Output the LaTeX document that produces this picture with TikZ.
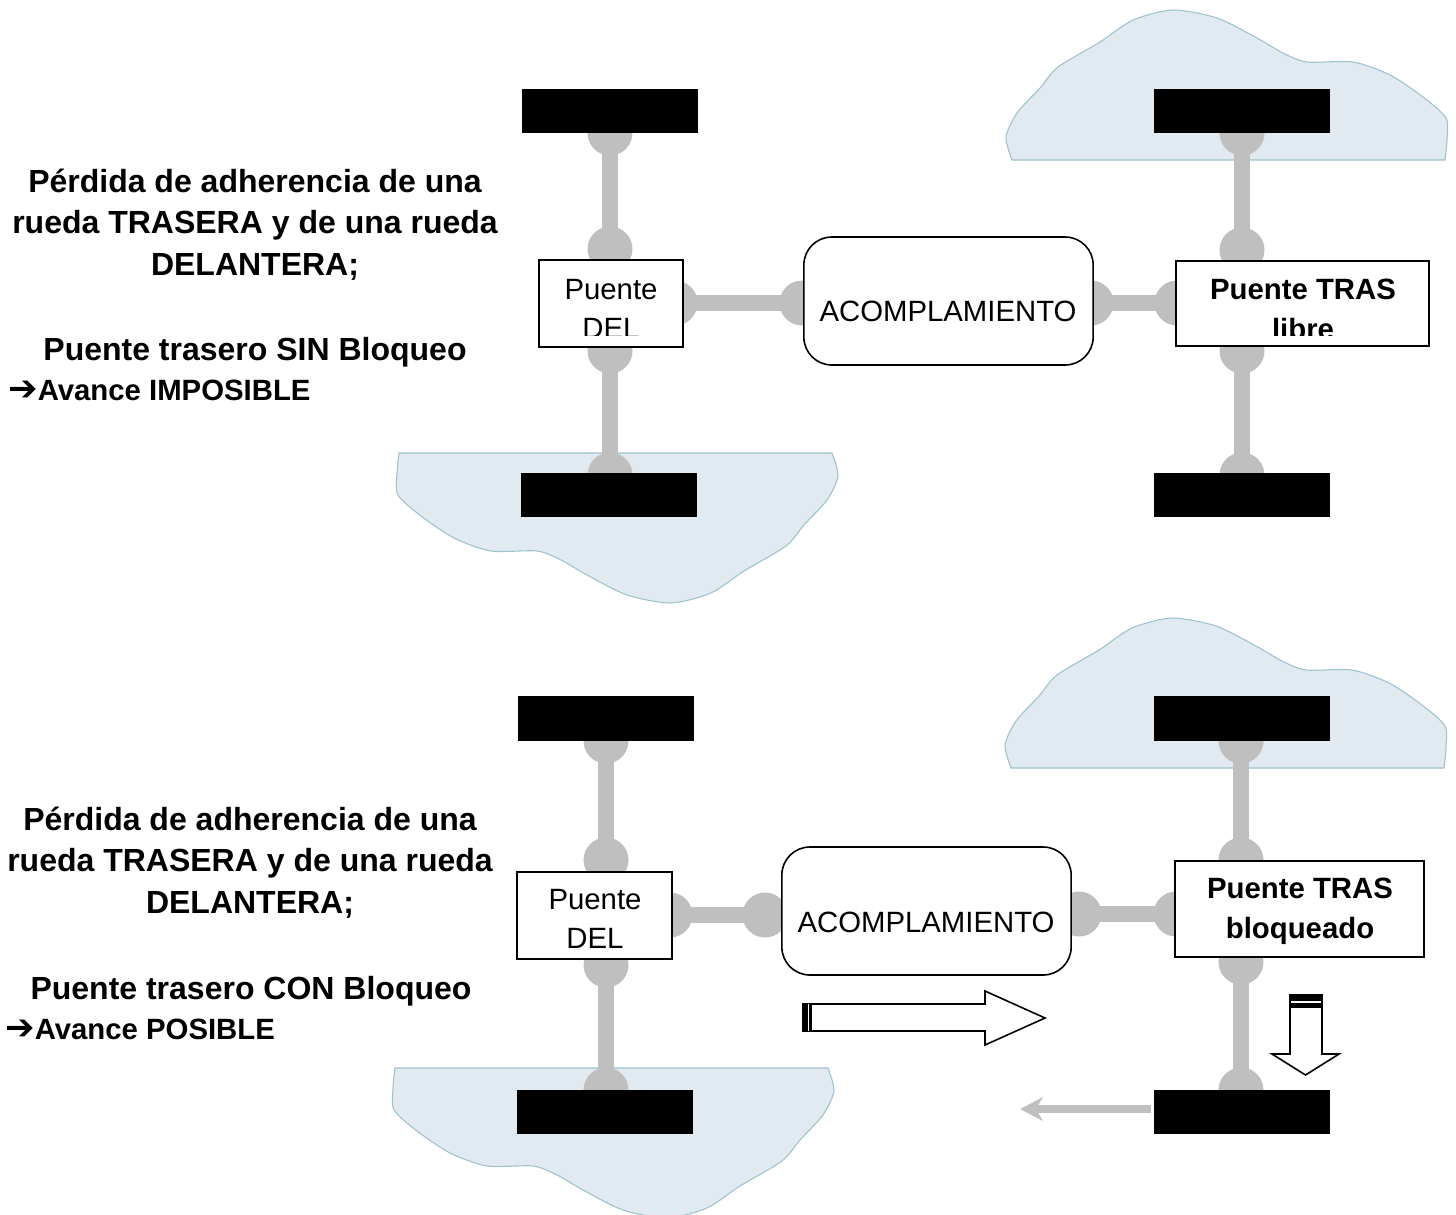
\documentclass[tikz,border=0pt]{standalone}
\usepackage{fontspec}
\setmainfont{Liberation Sans}
\newfontfamily\arrowfont[Scale=1.2]{DejaVu Sans}
\usetikzlibrary{arrows.meta}
\definecolor{axlegray}{HTML}{BFBFBF}
\definecolor{mudfill}{HTML}{E0EAF0}
\definecolor{mudline}{HTML}{9FC2CC}

\tikzset{
	hub/.style={circle, fill=axlegray, inner sep=0pt, minimum size=33.75pt},
	axle/.style={draw=axlegray, line width=12pt, shorten >=-12pt, shorten <=-12pt},
	wheel/.style={rectangle, fill=black, inner sep=0pt, minimum width=132pt, minimum height=33.5pt},
	bridge/.style={draw, rectangle, fill=white, line width=1.4pt, inner sep=0pt},
	coupling/.style={draw, rectangle, rounded corners=21pt, fill=white, line width=1.2pt, inner sep=0pt, minimum width=217pt, minimum height=96pt},
	plain label/.style={align=center, inner sep=0pt, font=\fontsize{22}{29.5}\selectfont},
	bold label/.style={align=center, inner sep=0pt, font=\fontsize{22}{30.3}\selectfont\bfseries},
	side label/.style={align=center, inner sep=0pt, font=\fontsize{24}{31.3}\selectfont\bfseries},
	result label/.style={anchor=west, inner sep=0pt, font=\fontsize{22}{26}\selectfont\bfseries},
	torque/.style={draw, fill=white, line width=1.2pt, line join=miter},
	mud/.pic={
		\draw[fill=mudfill, draw=mudline, line width=0.8pt] plot[smooth, tension=0.45] coordinates {
			(1012,160) (1006,137) (1017,113) (1040,88) (1058,67) (1100,42) (1133,20) (1173,10)
			(1217,18) (1257,38) (1283,53) (1307,62) (1353,62) (1390,75) (1423,97) (1446,118)
			(1447,140) (1445,160)} -- cycle;
	}
}

\begin{document}
\begin{tikzpicture}[x=0.75pt,y=-0.75pt]
	\useasboundingbox (0,0) rectangle (1456,1214);

	% wet patches
	\pic at (0,0) {mud};
	\pic at (-1,608) {mud};
	\pic[rotate=180] at (1844,613) {mud};
	\pic[rotate=180] at (1840,1228) {mud};

	% hubs
	\foreach \n/\x/\y in {a1/610/133,a2/610/249,a3/610/351,a4/610/475,a5/675/303,a6/802/303,
			a7/1091/303,a8/1177/303,a9/1242/133,a10/1242/250,a11/1242/351,a12/1242/475,
			b1/606/741,b2/606/860,b3/606/965,b4/606/1090,b5/670/915,b6/765/915,
			b7/1079/914,b8/1176/914,b9/1241/741,b10/1241/860,b11/1241/962,b12/1241/1090}
		\node[hub] (\n) at (\x,\y) {};

	% axles
	\draw[axle] (a1) -- (a2);
	\draw[axle] (a3) -- (a4);
	\draw[axle] (a5) -- (a6);
	\draw[axle] (a7) -- (a8);
	\draw[axle] (a9) -- (a10);
	\draw[axle] (a11) -- (a12);
	\draw[axle] (b1) -- (b2);
	\draw[axle] (b3) -- (b4);
	\draw[axle] (b5) -- (b6);
	\draw[axle] (b7) -- (b8);
	\draw[axle] (b9) -- (b10);
	\draw[axle] (b11) -- (b12);

	% wheels
	\node[wheel] (wa1) at (610,111) {};
	\node[wheel] (wa2) at (609,495) {};
	\node[wheel] (wa3) at (1242,111) {};
	\node[wheel] (wa4) at (1242,495) {};
	\node[wheel] (wb1) at (606,718.5) {};
	\node[wheel] (wb2) at (605,1112) {};
	\node[wheel] (wb3) at (1241.5,718.5) {};
	\node[wheel] (wb4) at (1241.5,1112) {};

	% upper picture
	\node[bridge, minimum width=108pt, minimum height=65pt] (dela) at (611,303.5) {};
	\node[bridge, minimum width=190pt, minimum height=64pt] (trasa) at (1302.5,303.5) {};
	\node[coupling] (acopa) at (948.5,301) {};
	\node[plain label] (acopatxt) at (948,311) {ACOMPLAMIENTO};
	\begin{scope}
		\clip (541,262) rectangle (681,335);
		\node[plain label] (delatxt) at (611,309) {Puente\\DEL};
	\end{scope}
	\begin{scope}
		\clip (1178,263) rectangle (1428,335);
		\node[bold label] (trasatxt) at (1303,309.5) {Puente TRAS\\libre};
	\end{scope}

	% lower picture
	\node[bridge, minimum width=116pt, minimum height=65pt] (delb) at (594.5,915.5) {};
	\node[bridge, minimum width=187pt, minimum height=72pt] (trasb) at (1299.5,909) {};
	\node[coupling] (acopb) at (926.5,911) {};
	\node[plain label] (acopbtxt) at (926,922) {ACOMPLAMIENTO};
	\node[plain label] (delbtxt) at (595,919) {Puente\\DEL};
	\node[bold label] (trasbtxt) at (1300,911) {Puente TRAS\\bloqueado};

	% torque arrows
	\draw[torque] (803,1004) -- (985,1004) -- (985,991) -- (1045,1018) -- (985,1045) -- (985,1031) -- (803,1031) -- cycle;
	\fill[black] (802,1003) rectangle (812,1032);
	\draw[white, line width=0.6pt] (808,1004) -- (808,1031);
	\draw[torque] (1290,995) -- (1322,995) -- (1322,1054) -- (1339,1054) -- (1305.5,1075) -- (1272,1054) -- (1290,1054) -- cycle;
	\fill[black] (1289,995) rectangle (1323,1008);
	\draw[white, line width=1pt] (1291,1002) -- (1321,1002);

	% reaction arrow
	\coordinate (reac) at (1020,1109);
	\draw[-{Stealth[length=17pt,width=17.5pt,inset=5pt]}, draw=axlegray, line width=6pt] (wb4.west |- reac) ++(-2,0) -- (reac);

	% side texts
	\node[side label] (texta) at (255,224.5) {Pérdida de adherencia de una\\rueda TRASERA y de una rueda\\DELANTERA;};
	\node[side label] (modea) at (255,352) {Puente trasero SIN Bloqueo};
	\node[result label] (resa) at (8,390) {{\arrowfont\bfseries ➔}Avance IMPOSIBLE};
	\node[side label] (textb) at (250,862.5) {Pérdida de adherencia de una\\rueda TRASERA y de una rueda\\DELANTERA;};
	\node[side label] (modeb) at (251,991) {Puente trasero CON Bloqueo};
	\node[result label] (resb) at (5,1029) {{\arrowfont\bfseries ➔}Avance POSIBLE};
\end{tikzpicture}
\end{document}
